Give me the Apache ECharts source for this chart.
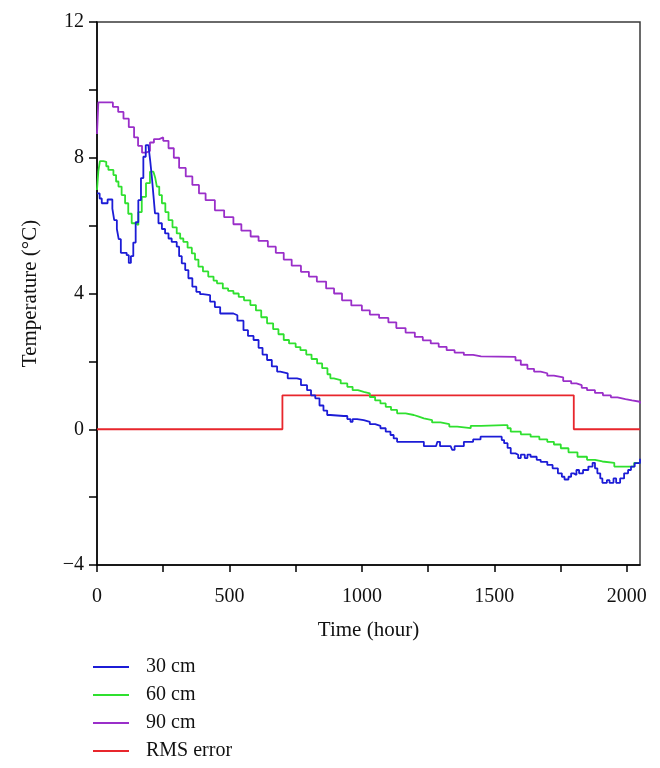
<!DOCTYPE html>
<html>
<head>
<meta charset="utf-8">
<style>html,body{margin:0;padding:0;background:#fff;}#chart{width:660px;height:768px;}</style>
<script src="https://cdn.jsdelivr.net/npm/echarts@6/dist/echarts.min.js"></script>
</head>
<body>
<div id="chart"></div>
<script>
// ---- data: [time (hour), temperature (°C)] ----
const depth30 = [[0,6.95],[10,6.8],[18,6.66],[40,6.77],[58,6.5],[65,6.16],[75,5.9],[82,5.6],[90,5.2],[112,5.13],[120,4.9],[128,5.1],[137,5.5],[146,6.1],[156,6.75],[166,7.4],[175,8.03],[184,8.37],[194,8.32],[201,7.9],[207,7.44],[213,6.9],[219,6.36],[232,6.07],[245,5.9],[257,5.77],[270,5.62],[282,5.52],[301,5.38],[310,5.1],[320,4.89],[333,4.69],[345,4.45],[360,4.2],[375,4.05],[389,3.98],[400,3.95],[427,3.76],[445,3.6],[465,3.41],[515,3.36],[530,3.2],[553,2.92],[570,2.75],[591,2.63],[610,2.4],[625,2.2],[642,2.04],[660,1.85],[680,1.7],[692,1.65],[720,1.5],[755,1.47],[770,1.3],[793,1.15],[808,1.0],[824,0.91],[840,0.7],[855,0.55],[869,0.42],[881,0.39],[931,0.39],[945,0.3],[957,0.22],[965,0.3],[982,0.27],[1007,0.22],[1030,0.15],[1050,0.1],[1070,0.03],[1090,-0.07],[1108,-0.17],[1120,-0.27],[1133,-0.37],[1221,-0.37],[1234,-0.5],[1280,-0.5],[1285,-0.37],[1295,-0.5],[1335,-0.5],[1341,-0.61],[1350,-0.5],[1385,-0.37],[1420,-0.3],[1448,-0.22],[1518,-0.22],[1528,-0.32],[1537,-0.41],[1550,-0.55],[1562,-0.71],[1580,-0.75],[1590,-0.85],[1600,-0.75],[1615,-0.85],[1625,-0.75],[1637,-0.81],[1660,-0.9],[1675,-0.96],[1700,-1.05],[1720,-1.15],[1740,-1.3],[1755,-1.4],[1765,-1.48],[1780,-1.4],[1790,-1.3],[1800,-1.35],[1810,-1.2],[1820,-1.3],[1835,-1.2],[1855,-1.1],[1871,-0.99],[1880,-1.15],[1889,-1.3],[1900,-1.45],[1908,-1.58],[1925,-1.5],[1935,-1.58],[1950,-1.45],[1960,-1.58],[1975,-1.45],[1990,-1.3],[2005,-1.2],[2016,-1.1],[2030,-1.0],[2050,-0.87]];

const depth60 = [[0,7.05],[5,7.6],[11,7.9],[24,7.88],[35,7.75],[43,7.64],[62,7.49],[72,7.3],[81,7.15],[93,6.9],[106,6.66],[118,6.35],[131,6.07],[144,6.02],[156,6.4],[169,6.85],[185,7.25],[200,7.59],[213,7.64],[220,7.4],[226,7.15],[235,6.9],[245,6.66],[258,6.4],[270,6.16],[285,5.95],[301,5.77],[314,5.62],[326,5.52],[342,5.35],[358,5.18],[370,5.0],[383,4.79],[400,4.65],[420,4.5],[440,4.38],[453,4.3],[475,4.15],[495,4.08],[515,4.0],[535,3.9],[555,3.8],[579,3.66],[600,3.5],[620,3.3],[642,3.12],[665,2.95],[685,2.8],[705,2.63],[725,2.53],[750,2.42],[768,2.33],[790,2.2],[810,2.07],[831,1.94],[850,1.8],[870,1.62],[881,1.5],[894,1.45],[920,1.35],[945,1.25],[965,1.15],[985,1.1],[1007,1.06],[1030,0.95],[1050,0.85],[1070,0.76],[1090,0.66],[1110,0.57],[1133,0.47],[1165,0.42],[1196,0.37],[1215,0.32],[1234,0.27],[1265,0.2],[1297,0.15],[1330,0.08],[1360,0.03],[1411,0.1],[1450,0.12],[1536,0.12],[1550,0.03],[1562,-0.07],[1600,-0.15],[1637,-0.22],[1670,-0.3],[1700,-0.37],[1725,-0.45],[1751,-0.56],[1780,-0.68],[1814,-0.81],[1850,-0.9],[1880,-0.95],[1908,-0.99],[1953,-1.1],[2003,-1.1],[2028,-0.99],[2050,-0.96]];

const depth90 = [[0,8.7],[5,9.63],[40,9.63],[60,9.5],[80,9.35],[100,9.15],[120,8.9],[140,8.6],[155,8.35],[170,8.15],[185,8.2],[200,8.45],[215,8.55],[235,8.6],[250,8.5],[270,8.28],[290,8.0],[310,7.7],[335,7.45],[360,7.2],[385,6.95],[410,6.75],[445,6.45],[480,6.25],[515,6.04],[545,5.85],[580,5.68],[610,5.55],[645,5.38],[675,5.2],[705,5.0],[735,4.82],[770,4.64],[800,4.5],[830,4.35],[865,4.15],[895,4.0],[925,3.8],[960,3.65],[1000,3.5],[1030,3.38],[1065,3.28],[1100,3.15],[1130,2.98],[1165,2.85],[1200,2.72],[1230,2.62],[1260,2.53],[1290,2.43],[1320,2.33],[1350,2.26],[1385,2.19],[1420,2.15],[1450,2.13],[1580,2.03],[1600,1.9],[1625,1.78],[1650,1.7],[1675,1.65],[1700,1.58],[1725,1.53],[1760,1.42],[1790,1.35],[1810,1.3],[1830,1.22],[1850,1.15],[1880,1.07],[1910,1.0],[1940,0.94],[1965,0.89],[1995,0.85],[2020,0.81],[2050,0.76]];

const rmsError = [[0,0],[700,0],[700,1],[1800,1],[1800,0],[2050,0]];

const xTicks = [0,250,500,750,1000,1250,1500,1750,2000];
const xLabels = [0,500,1000,1500,2000];
const yTicks = [-4,-2,0,2,4,6,8,10,12];
const yLabels = [-4,0,4,8,12];
const seriesNames = ['30 cm','60 cm','90 cm','RMS error'];
const colors = ['#1c1cd6','#2fe02f','#9a2fc9','#e8262c'];

const FONT = '"Liberation Serif","DejaVu Serif",serif';
const chart = echarts.init(document.getElementById('chart'), null, {renderer:'canvas'});
const fmtNum = v => (v < 0 ? '\u2212' + Math.abs(v) : String(v));

chart.setOption({
  animation: false,
  color: colors,
  grid: {left: 97, right: 20, top: 22, bottom: 203, show: true, borderColor: '#3a3a3a', borderWidth: 1.5, backgroundColor: 'transparent'},
  legend: {
    orient: 'vertical', left: 88, top: 652, itemGap: 8, itemWidth: 36, itemHeight: 2,
    icon: 'rect', data: seriesNames,
    textStyle: {fontFamily: FONT, fontSize: 20, color: '#111', lineHeight: 20, padding: [0,0,0,12]}
  },
  xAxis: {
    type: 'value', min: 0, max: 2050,
    name: 'Time (hour)', nameLocation: 'middle', nameGap: 55,
    nameTextStyle: {fontFamily: FONT, fontSize: 21, color: '#111'},
    axisLine: {show: true, onZero: false, lineStyle: {color: '#000', width: 1.5}},
    axisTick: {show: true, length: 7, customValues: xTicks, lineStyle: {color: '#000', width: 1.5}},
    axisLabel: {customValues: xLabels, margin: 22, fontFamily: FONT, fontSize: 20, color: '#111', formatter: fmtNum},
    splitLine: {show: false}
  },
  yAxis: {
    type: 'value', min: -4, max: 12,
    name: 'Temperature (\u00B0C)', nameLocation: 'middle', nameGap: 56, nameRotate: 90,
    nameTextStyle: {fontFamily: FONT, fontSize: 21, color: '#111'},
    axisLine: {show: true, onZero: false, lineStyle: {color: '#000', width: 1.5}},
    axisTick: {show: true, length: 8, customValues: yTicks, lineStyle: {color: '#000', width: 1.5}},
    axisLabel: {customValues: yLabels, margin: 13, fontFamily: FONT, fontSize: 20, color: '#111', formatter: fmtNum},
    splitLine: {show: false}
  },
  series: [
    {name: seriesNames[0], type: 'line', data: depth30, step: 'end', showSymbol: false, symbol: 'none', lineStyle: {width: 1.8}, z: 4},
    {name: seriesNames[1], type: 'line', data: depth60, step: 'end', showSymbol: false, symbol: 'none', lineStyle: {width: 1.8}, z: 3},
    {name: seriesNames[2], type: 'line', data: depth90, step: 'end', showSymbol: false, symbol: 'none', lineStyle: {width: 1.8}, z: 2},
    {name: seriesNames[3], type: 'line', data: rmsError, showSymbol: false, symbol: 'none', lineStyle: {width: 1.8}, z: 1}
  ]
});
</script>
</body>
</html>
